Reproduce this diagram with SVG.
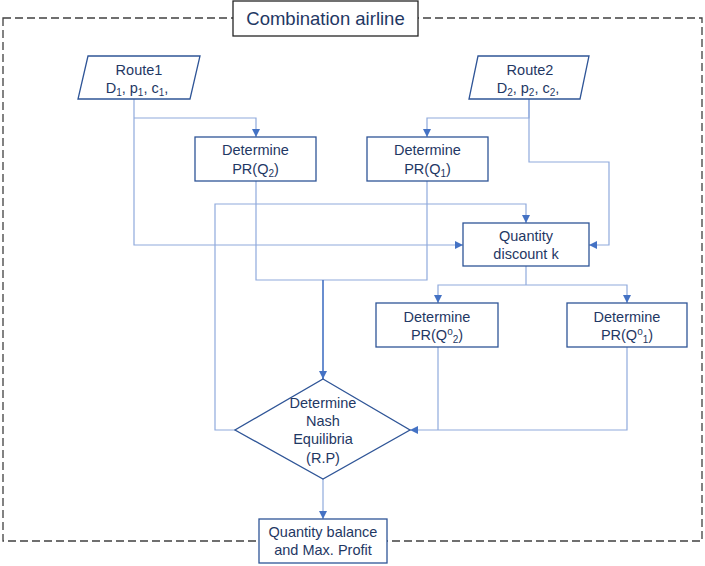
<svg xmlns="http://www.w3.org/2000/svg" width="705" height="566" viewBox="0 0 705 566">
<style>
.box{fill:#fff;stroke:#2F5597;stroke-width:1.3}
.t{font-family:"Liberation Sans",Arial,sans-serif;font-size:14.5px;fill:#1F3864;text-anchor:middle}
.c{fill:none;stroke:#8FAADC;stroke-width:1.2}
.ca{fill:none;stroke:#8FAADC;stroke-width:1.2;marker-end:url(#ah)}
.s{font-size:10px}
</style>
<defs>
<marker id="ah" viewBox="0 0 10 10" refX="10" refY="5" markerWidth="8" markerHeight="8" markerUnits="userSpaceOnUse" orient="auto">
<path d="M0,0 L10,5 L0,10 z" fill="#4472C4"/>
</marker>
</defs>
<rect x="3" y="18" width="699" height="523" fill="none" stroke="#404040" stroke-width="1.3" stroke-dasharray="8,4"/>
<g id="title">
<rect x="233" y="1" width="185" height="35" fill="#fff" stroke="#262626" stroke-width="1.3"/>
<text x="325.5" y="25" font-family="Liberation Sans,Arial,sans-serif" font-size="18.5" fill="#1F3864" text-anchor="middle">Combination airline</text>
</g>
<g id="connectors">
<path class="ca" d="M134,99 V245 H463"/>
<path class="ca" d="M134,118 H256 V137"/>
<path class="ca" d="M529,99 V118 H427 V137"/>
<path class="ca" d="M529,99 V162 H609 V245 H589"/>
<path class="c" d="M256,181 V280 H427 V181"/>
<path d="M323,280 V379" fill="none" stroke="#4472C4" stroke-width="1.6" marker-end="url(#ah)"/>
<path class="ca" d="M235,430 H215 V204 H526 V223"/>
<path class="c" d="M526,266 V285"/>
<path class="ca" d="M526,285 H438 V303"/>
<path class="ca" d="M526,285 H627 V303"/>
<path class="c" d="M438,347 V430"/>
<path class="ca" d="M627,347 V430 H410"/>
<path class="ca" d="M323,479 V519"/>
</g>
<g id="route1">
<polygon class="box" points="88,56 200,56 190,99 78,99"/>
<text class="t" x="139" y="75">Route1</text>
<text class="t" x="137" y="93">D<tspan class="s" dy="3">1</tspan><tspan dy="-3">, p</tspan><tspan class="s" dy="3">1</tspan><tspan dy="-3">, c</tspan><tspan class="s" dy="3">1</tspan><tspan dy="-3">,</tspan></text>
</g>
<g id="route2">
<polygon class="box" points="478,56 589,56 580,99 469,99"/>
<text class="t" x="530" y="75">Route2</text>
<text class="t" x="528" y="93">D<tspan class="s" dy="3">2</tspan><tspan dy="-3">, p</tspan><tspan class="s" dy="3">2</tspan><tspan dy="-3">, c</tspan><tspan class="s" dy="3">2</tspan><tspan dy="-3">,</tspan></text>
</g>
<g id="prq2">
<rect class="box" x="195" y="137" width="121" height="44"/>
<text class="t" x="255.5" y="155">Determine</text>
<text class="t" x="255.5" y="174">PR(Q<tspan class="s" dy="3">2</tspan><tspan dy="-3">)</tspan></text>
</g>
<g id="prq1">
<rect class="box" x="367" y="137" width="121" height="44"/>
<text class="t" x="427.5" y="155">Determine</text>
<text class="t" x="427.5" y="174">PR(Q<tspan class="s" dy="3">1</tspan><tspan dy="-3">)</tspan></text>
</g>
<g id="quantity">
<rect class="box" x="463" y="223" width="126" height="43"/>
<text class="t" x="526" y="241">Quantity</text>
<text class="t" x="526" y="259">discount k</text>
</g>
<g id="prqo2">
<rect class="box" x="376" y="303" width="122" height="44"/>
<text class="t" x="437" y="322">Determine</text>
<text class="t" x="437" y="340">PR(Q<tspan class="s" dy="-5">o</tspan><tspan class="s" dy="8">2</tspan><tspan dy="-3">)</tspan></text>
</g>
<g id="prqo1">
<rect class="box" x="567" y="303" width="120" height="44"/>
<text class="t" x="627" y="322">Determine</text>
<text class="t" x="627" y="340">PR(Q<tspan class="s" dy="-5">o</tspan><tspan class="s" dy="8">1</tspan><tspan dy="-3">)</tspan></text>
</g>
<g id="nash">
<polygon class="box" points="323,379 410,430 323,479 235,430" fill="none"/>
<text class="t" x="323" y="408">Determine</text>
<text class="t" x="323" y="426">Nash</text>
<text class="t" x="323" y="444">Equilibria</text>
<text class="t" x="323" y="463">(R.P)</text>
</g>
<g id="final">
<rect class="box" x="259" y="519" width="128" height="44"/>
<text class="t" x="323" y="537">Quantity balance</text>
<text class="t" x="323" y="555">and Max. Profit</text>
</g>
</svg>
